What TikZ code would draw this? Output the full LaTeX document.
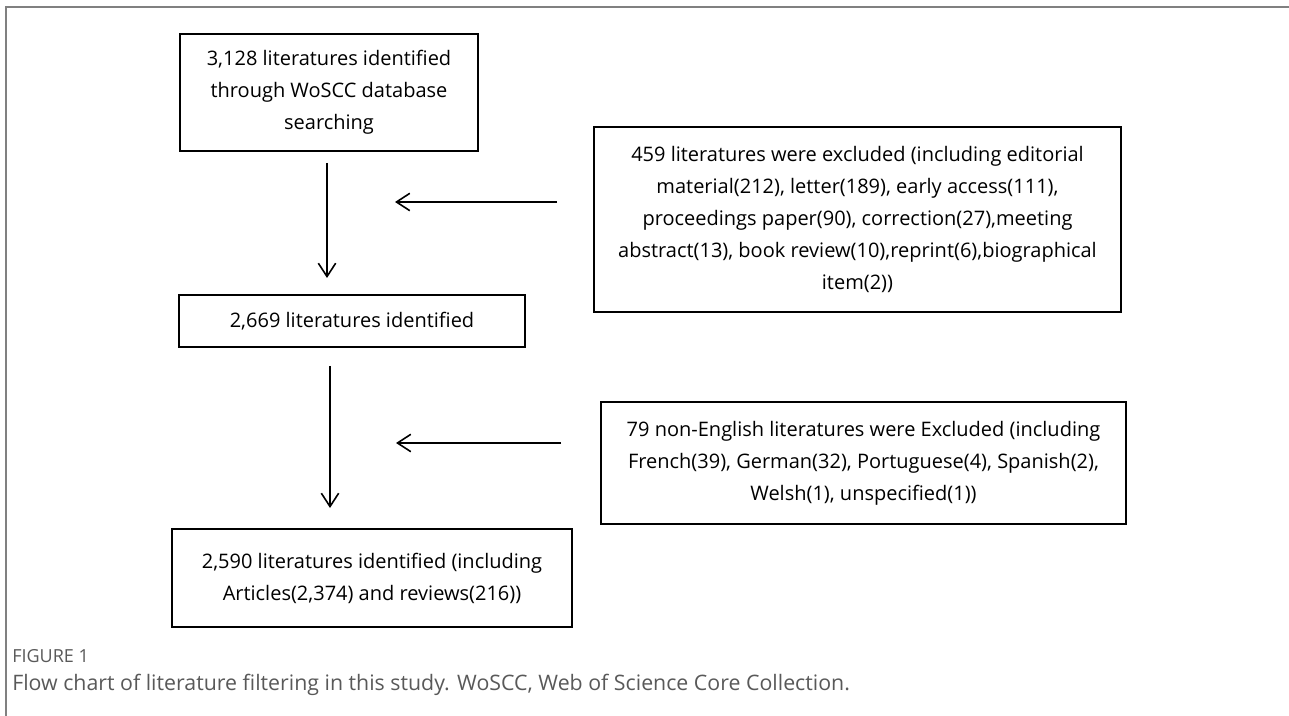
\documentclass[tikz,border=0pt]{standalone}
\usepackage{fontspec}
\setmainfont{Open Sans}
\usetikzlibrary{arrows.meta}
\definecolor{framegray}{HTML}{808080}
\definecolor{capgray}{HTML}{595959}
\begin{document}
\begin{tikzpicture}[x=0.75pt,y=-0.75pt,
  box/.style={draw, line width=1.5pt, align=center, inner sep=0pt,
    font=\fontsize{15}{24}\selectfont},
  flow/.style={line width=1.2pt, -{Straight Barb[length=10pt,width=13pt,line width=1.2pt]}}]
\useasboundingbox (0,0) rectangle (1289,716);
\draw[framegray, line width=1.2pt] (1289,7) -- (6,7) -- (6,716);

\node[box, minimum width=223.5pt, minimum height=87.75pt] (b1) at (329,92.5)
  {3,128 literatures identified\\ through WoSCC database\\ searching};
\node[box, minimum width=259.5pt, minimum height=39pt] (b2) at (352,321)
  {2,669 literatures identified};
\node[box, minimum width=300pt, minimum height=73.5pt] (b3) at (372,578)
  {2,590 literatures identified (including\\ Articles(2,374) and reviews(216))};
\node[box, minimum width=395.25pt, minimum height=138.75pt] (b4) at (857.5,219.5)
  {459 literatures were excluded (including editorial\\ material(212), letter(189), early access(111),\\ proceedings paper(90), correction(27),meeting\\ abstract(13), book review(10),reprint(6),biographical\\ item(2))};
\node[box, minimum width=393.75pt, minimum height=91.5pt] (b5) at (863.5,463)
  {79 non-English literatures were Excluded (including\\ French(39), German(32), Portuguese(4), Spanish(2),\\ Welsh(1), unspecified(1))};

\coordinate (v1s) at (327,163);
\coordinate (v1e) at (327,278);
\coordinate (h1s) at (557,202);
\coordinate (h1e) at (395,202);
\coordinate (v2s) at (330,366);
\coordinate (v2e) at (330,508);
\coordinate (h2s) at (561,443);
\coordinate (h2e) at (396,443);
\draw[flow] (v1s) -- (v1e);
\draw[flow] (h1s) -- (h1e);
\draw[flow] (v2s) -- (v2e);
\draw[flow] (h2s) -- (h2e);

\node[anchor=base west, inner sep=0pt, text=capgray, font=\fontsize{13.5}{15}\selectfont] (fig) at (12,662) {FIGURE 1};
\node[anchor=base west, inner sep=0pt, text=capgray, font=\fontsize{16}{18}\selectfont] (cap) at (12,690) {Flow chart of literature filtering in this study. WoSCC, Web of Science Core Collection.};
\end{tikzpicture}
\end{document}
